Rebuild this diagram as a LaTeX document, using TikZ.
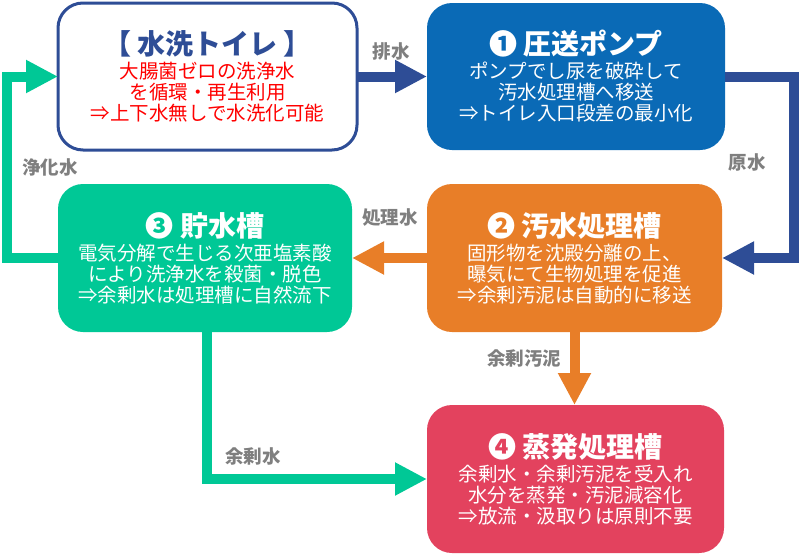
\documentclass[tikz,border=0pt]{standalone}
\usepackage{fontspec}
\setmainfont{Noto Sans CJK JP}
\usetikzlibrary{arrows.meta}
\definecolor{navy}{HTML}{2E4D96}
\definecolor{pumpblue}{HTML}{0A6AB6}
\definecolor{mint}{HTML}{00C896}
\definecolor{tankorange}{HTML}{E87E28}
\definecolor{evapred}{HTML}{E3425E}
\definecolor{labelgray}{HTML}{7F7F7F}
\newcommand{\ttl}{\fontsize{28}{30}\selectfont\bfseries}
\tikzset{
  box/.style={rounded corners=25pt, minimum height=147pt, outer sep=0pt,
    align=center, text=white, inner sep=0pt,
    font=\fontsize{19.5}{21}\selectfont},
  flow/.style={line width=10pt, line join=miter,
    -{Triangle[length=32pt,width=31pt]}},
  lbl/.style={text=labelgray, font=\fontsize{18.5}{20}\selectfont\bfseries,
    inner sep=0pt},
}
\begin{document}
\begin{tikzpicture}[x=1pt,y=-1pt]
\useasboundingbox (0,0) rectangle (800,555);

\node[box, draw=navy, line width=3pt, fill=white, text=red,
  minimum width=299pt] (toilet) at (207.5,76.5)
  {{\ttl\color{navy}【 水洗トイレ 】}\\[3pt]
   大腸菌ゼロの洗浄水\\ を循環・再生利用\\ ⇒上下水無しで水洗化可能};

\node[box, fill=pumpblue, minimum width=298pt] (pump) at (576,76.5)
  {{\ttl ❶ 圧送ポンプ}\\[3pt]
   ポンプでし尿を破砕して\\ 汚水処理槽へ移送\\ ⇒トイレ入口段差の最小化};

\node[box, fill=mint, minimum width=294pt, minimum height=148pt] (storage) at (205,258)
  {{\ttl ❸ 貯水槽}\\[3pt]
   電気分解で生じる次亜塩素酸\\ により洗浄水を殺菌・脱色\\ ⇒余剰水は処理槽に自然流下};

\node[box, fill=tankorange, minimum width=295pt, minimum height=148pt] (sewage) at (574.5,258)
  {{\ttl ❷ 汚水処理槽}\\[3pt]
   固形物を沈殿分離の上、\\ 曝気にて生物処理を促進\\ ⇒余剰汚泥は自動的に移送};

\node[box, fill=evapred, minimum width=297pt, minimum height=148pt] (evap) at (575.5,479)
  {{\ttl ❹ 蒸発処理槽}\\[3pt]
   余剰水・余剰汚泥を受入れ\\ 水分を蒸発・汚泥減容化\\ ⇒放流・汲取りは原則不要};

% connectors
\draw[flow, navy] (toilet.east) -- (pump.west);
\draw[flow, navy] (pump.east) -- ++(69,0) |- (sewage.east);
\draw[flow, tankorange] (sewage.west) -- (storage.east);
\draw[flow, mint] (storage.west) -- ++(-51,0) |- (toilet.west);
\draw[flow, mint] ([xshift=2pt]storage.south) |- (evap.west);
\draw[flow, tankorange] (sewage.south) -- (sewage.south |- evap.north);

% labels
\node[lbl] (l1) at (391,51) {排水};
\node[lbl] (l2) at (747,162) {原水};
\node[lbl] (l3) at (390,218) {処理水};
\node[lbl] (l4) at (50,167) {浄化水};
\node[lbl] (l5) at (253,456) {余剰水};
\node[lbl] (l6) at (524,358) {余剰汚泥};
\end{tikzpicture}
\end{document}
